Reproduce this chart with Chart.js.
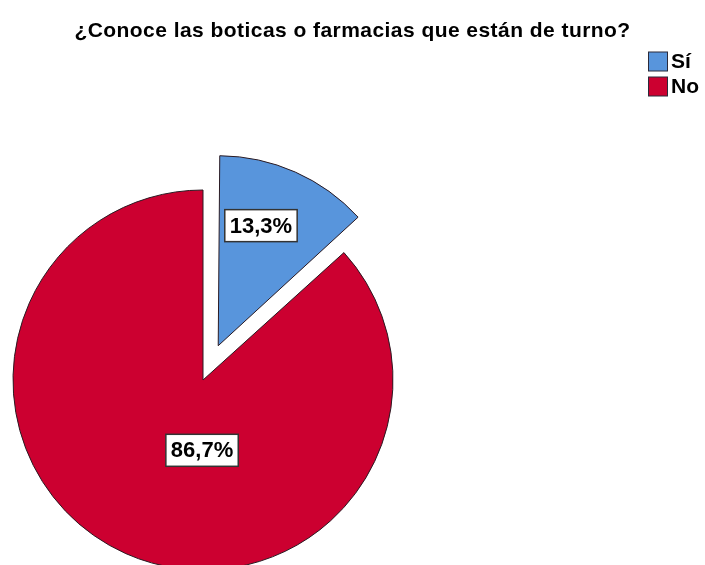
<!DOCTYPE html>
<html>
<head>
<meta charset="utf-8">
<script src="https://cdn.jsdelivr.net/npm/chart.js@4.4.1/dist/chart.umd.min.js"></script>
<style>
  html, body { margin: 0; padding: 0; background: #ffffff; }
  #wrap { width: 705px; height: 565px; }
</style>
</head>
<body>
<div id="wrap"><canvas id="chart" width="705" height="565"></canvas></div>
<script>
// Survey answers and their share of respondents (%)
const titleText = '¿Conoce las boticas o farmacias que están de turno?';
const categories = ['Sí', 'No'];
const percentages = [13.3, 86.7];
const sliceColors = ['#5895dc', '#cc0030'];
const explodeDistance = [150, 0];

const FONT = '"Liberation Sans", Arial, Helvetica, sans-serif';

// Arc whose exploded slice keeps the same radius as the rest of the pie
class ExplodedArc extends Chart.ArcElement {
  draw(ctx) {
    const off = (this.options.offset || 0) / 4;
    const fix = 1 - Math.sin(Math.min(Math.PI, this.circumference || 0));
    const saved = this.outerRadius;
    this.outerRadius = saved - off * fix;
    super.draw(ctx);
    this.outerRadius = saved;
  }
}
ExplodedArc.id = 'explodedArc';
Chart.register(ExplodedArc);
Chart.defaults.datasets.pie.dataElementType = 'explodedArc';

function fmtPct(v) {
  return v.toFixed(1).replace('.', ',') + '%';
}

// Title and side legend
const headerPlugin = {
  id: 'header',
  afterDraw(chart) {
    const ctx = chart.ctx;
    ctx.save();
    ctx.fillStyle = '#000';
    ctx.font = 'bold 21px ' + FONT;
    ctx.letterSpacing = '0.45px';
    ctx.textAlign = 'center';
    ctx.textBaseline = 'alphabetic';
    ctx.fillText(titleText, chart.width / 2, 37);
    ctx.letterSpacing = '0px';

    const ds = chart.data.datasets[0];
    ctx.font = 'bold 21px ' + FONT;
    ctx.textAlign = 'left';
    ctx.textBaseline = 'middle';
    chart.data.labels.forEach((lab, i) => {
      const cy = 61.5 + i * 25;
      ctx.fillStyle = ds.backgroundColor[i];
      ctx.fillRect(648.5, cy - 9.5, 19, 19);
      ctx.strokeStyle = '#2a2a3a';
      ctx.lineWidth = 1;
      ctx.strokeRect(648.5, cy - 9.5, 19, 19);
      ctx.fillStyle = '#000';
      ctx.fillText(lab, 671, cy + 1);
    });
    ctx.restore();
  }
};

// Boxed percentage labels placed relative to each slice's apex (in radius units)
const boxLabelPlugin = {
  id: 'boxLabels',
  afterDatasetsDraw(chart, args, opts) {
    const ctx = chart.ctx;
    const meta = chart.getDatasetMeta(0);
    const ds = chart.data.datasets[0];
    ctx.save();
    ctx.font = 'bold 22px ' + FONT;
    ctx.textAlign = 'center';
    ctx.textBaseline = 'middle';
    meta.data.forEach((arc, i) => {
      const p = arc.getProps(['x', 'y', 'startAngle', 'endAngle', 'outerRadius'], true);
      const mid = (p.startAngle + p.endAngle) / 2;
      const shift = (arc.options.offset || 0) / 4;
      const ax = p.x + Math.cos(mid) * shift;
      const ay = p.y + Math.sin(mid) * shift;
      const pos = opts.anchors[i];
      const lx = ax + pos.dx * p.outerRadius;
      const ly = ay + pos.dy * p.outerRadius;
      const text = fmtPct(ds.data[i]);
      const w = ctx.measureText(text).width + 10;
      const h = 32;
      ctx.fillStyle = '#ffffff';
      ctx.fillRect(lx - w / 2, ly - h / 2, w, h);
      ctx.strokeStyle = '#333333';
      ctx.lineWidth = 1.5;
      ctx.strokeRect(lx - w / 2, ly - h / 2, w, h);
      ctx.fillStyle = '#000';
      ctx.fillText(text, lx, ly + 1);
    });
    ctx.restore();
  }
};

new Chart(document.getElementById('chart'), {
  type: 'pie',
  data: {
    labels: categories,
    datasets: [{
      data: percentages,
      backgroundColor: sliceColors,
      borderColor: '#2a1a22',
      borderWidth: 1,
      offset: explodeDistance
    }]
  },
  options: {
    responsive: false,
    animation: false,
    devicePixelRatio: 1,
    radius: 190,
    layout: { padding: { top: 200, bottom: 5, left: 10, right: 309 } },
    plugins: {
      legend: { display: false },
      title: { display: false },
      tooltip: { enabled: false },
      boxLabels: {
        anchors: [
          { dx: 0.225, dy: -0.632 },
          { dx: -0.005, dy: 0.37 }
        ]
      }
    }
  },
  plugins: [boxLabelPlugin, headerPlugin]
});
</script>
</body>
</html>
